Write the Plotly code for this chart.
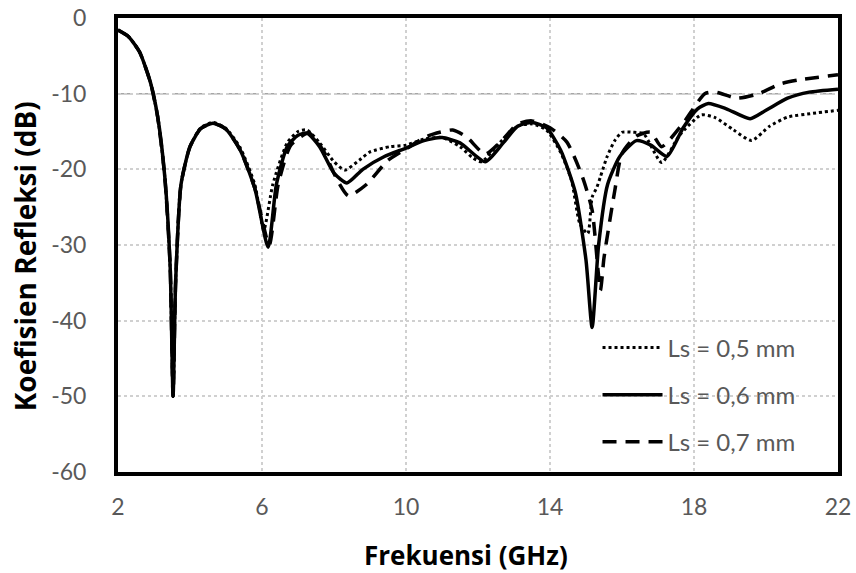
import plotly.graph_objects as go

# Ls = 0.5 mm (dotted)
x05 = [2.0, 2.3, 2.6, 2.9, 3.1, 3.3, 3.45, 3.53, 3.6, 3.75, 4.0, 4.3, 4.64, 5.0, 5.4, 5.8, 6.05, 6.3, 6.7, 7.0, 7.25,
       7.6, 8.0, 8.3, 8.7, 9.0, 9.56, 10.0, 10.5, 11.0, 11.5, 11.86, 12.1, 12.6, 13.1, 13.5, 13.9, 14.3, 14.6, 14.83,
       15.05, 15.17, 15.3, 15.4, 15.58, 15.8, 16.0, 16.3, 16.6, 17.1, 17.6, 18.2, 18.6, 19.1, 19.6, 20.1, 20.6, 21.3, 22.0]
y05 = [-1.6, -2.5, -4.5, -8.5, -13, -21, -33, -50, -35, -22, -17, -14.5, -13.8, -14.6, -17.2, -22, -28, -22, -16.5, -15.0, -14.8,
       -16.5, -19, -20.1, -18.8, -17.7, -17.0, -16.8, -16, -15.8, -17.0, -18.5, -19, -16.5, -14.3, -14.0, -14.8, -17.8, -21.5, -27.2,
       -28.5, -23.7, -22.4, -21, -18.4, -16.2, -15.1, -15.1, -15.3, -19.1, -15.5, -12.8, -13.2, -14.8, -16.2, -14.3, -13.1, -12.6, -12.2]

# Ls = 0.6 mm (solid)
x06 = [2.0, 2.3, 2.6, 2.9, 3.1, 3.3, 3.45, 3.53, 3.6, 3.75, 4.0, 4.3, 4.64, 5.0, 5.4, 5.8, 6.17, 6.4, 6.7, 7.0, 7.25,
       7.6, 8.0, 8.36, 8.8, 9.4, 10.0, 10.5, 11.0, 11.5, 12.2, 12.7, 13.1, 13.5, 13.9, 14.3, 14.7, 15.0, 15.17, 15.35,
       15.6, 15.94, 16.4, 16.8, 17.25, 17.7, 18.1, 18.4, 18.9, 19.56, 20.0, 20.6, 21.2, 22.0]
y06 = [-1.6, -2.5, -4.5, -8.5, -13, -21, -33, -50, -35, -22, -17, -14.6, -13.9, -14.7, -17.5, -22.5, -30.3, -22, -17, -15.5, -15.2,
       -17, -20.5, -21.8, -20, -18.3, -17.2, -16.2, -15.8, -16.5, -19.0, -16.5, -14.3, -13.8, -14.5, -17.5, -23, -32, -40.9, -30,
       -22, -18.3, -16.2, -16.8, -18.3, -14.5, -12, -11.3, -12, -13.3, -12.2, -10.6, -9.8, -9.4]

# Ls = 0.7 mm (dashed)
x07 = [2.0, 2.3, 2.6, 2.9, 3.1, 3.3, 3.45, 3.53, 3.6, 3.75, 4.0, 4.3, 4.64, 5.0, 5.4, 5.8, 6.2, 6.45, 6.8, 7.3,
       7.7, 8.1, 8.4, 8.9, 9.5, 10.0, 10.6, 11.3, 11.7, 12.2, 12.7, 13.1, 13.5, 14.0, 14.47, 14.9, 15.17, 15.4,
       15.5, 15.8, 16.0, 16.4, 16.8, 17.1, 17.7, 18.3, 18.6, 19.2, 19.8, 20.4, 20.9, 22.0]
y07 = [-1.6, -2.5, -4.5, -8.5, -13, -21, -33, -50, -35, -22, -17, -14.6, -13.9, -14.7, -17.5, -22.5, -30, -22, -16.8, -15.2,
       -17.5, -21.5, -23.5, -22, -18.8, -17.3, -15.6, -14.8, -15.8, -18.0, -16, -14, -13.6, -14.5, -16.4, -21, -25.4, -36,
       -31.7, -22.8, -17.9, -15.6, -15.1, -17, -13.9, -10.0, -9.8, -10.6, -10, -8.7, -8.2, -7.5]

names = ["Ls = 0,5 mm", "Ls = 0,6 mm", "Ls = 0,7 mm"]
x_ticks = [2, 6, 10, 14, 18, 22]
y_ticks = [0, -10, -20, -30, -40, -50, -60]
x_title = "Frekuensi (GHz)"
y_title = "Koefisien Refleksi (dB)"

FONT = "Lato, 'Open Sans', sans-serif"
TFONT = "'Open Sans', Lato, sans-serif"
GRAY = "#595959"

fig = go.Figure()
styles = [dict(dash="dot", width=3), dict(dash="solid", width=3.5), dict(dash="14px,9px", width=3.5)]
for i, (xs, ys) in enumerate([(x05, y05), (x06, y06), (x07, y07)]):
    fig.add_trace(go.Scatter(x=xs, y=ys, mode="lines", name=names[i], legendgroup=f"g{i}",
                             line=dict(color="black", shape="spline", smoothing=0.6, **styles[i])))

fig.add_hline(y=-10, line=dict(color="#a6a6a6", width=1.5, dash="6px,3px"), layer="below")

fig.add_annotation(text=f"<b>{x_title}</b>", xref="paper", yref="paper", x=0.483, y=-0.183,
                   xanchor="center", yanchor="middle", showarrow=False,
                   font=dict(family=TFONT, size=26, color="black"))
fig.add_annotation(text=f"<b>{y_title}</b>", xref="paper", yref="paper", x=-0.13, y=0.476,
                   xanchor="center", yanchor="middle", showarrow=False, textangle=-90,
                   font=dict(family=TFONT, size=28, color="black"))

fig.update_layout(
    width=856, height=573,
    margin=dict(l=118, r=18, t=18, b=101, autoexpand=False),
    paper_bgcolor="white", plot_bgcolor="white",
    font=dict(family=FONT, size=23, color=GRAY),
    showlegend=True,
    legend=dict(x=0.666, y=0.323, xanchor="left", yanchor="top", bgcolor="rgba(255,255,255,0)",
                font=dict(family=FONT, size=24, color=GRAY), tracegroupgap=13, itemwidth=60),
)
fig.update_xaxes(range=[2, 22], tickvals=x_ticks, ticktext=[str(v) for v in x_ticks], automargin=False,
                 showgrid=True, gridcolor="#d0d0d0", griddash="dot", gridwidth=2,
                 showline=True, linecolor="black", linewidth=4, mirror=True, zeroline=False,
                 ticks="", ticklabelstandoff=11, ticklabeloverflow="allow",
                 tickfont=dict(family=FONT, size=23, color=GRAY))
fig.update_yaxes(range=[-60, 0], tickvals=y_ticks, ticktext=[str(v) for v in y_ticks], automargin=False,
                 showgrid=True, gridcolor="#d0d0d0", griddash="dot", gridwidth=2,
                 showline=True, linecolor="black", linewidth=4, mirror=True, zeroline=False,
                 ticks="", ticklabelstandoff=23, ticklabeloverflow="allow",
                 tickfont=dict(family=FONT, size=23, color=GRAY))

fig.write_html("out.html", config={"displayModeBar": False},
               post_script="document.body.style.margin='0';")
